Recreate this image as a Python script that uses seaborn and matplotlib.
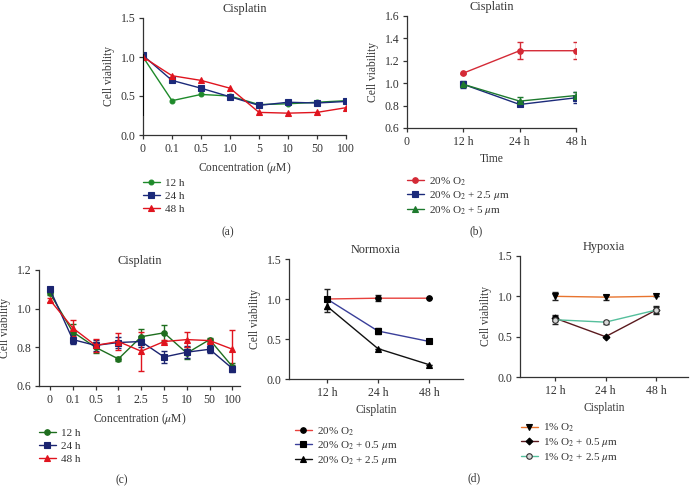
import numpy as np
import pandas as pd
import matplotlib
matplotlib.use("Agg")
import matplotlib.pyplot as plt
import seaborn as sns

# ---------------- data ----------------
# panel (a)
a_conc = ["0", "0.1", "0.5", "1.0", "5", "10", "50", "100"]
a_series = ["12 h", "24 h", "48 h"]
a_12 = [1.00, 0.44, 0.52, 0.50, 0.39, 0.40, 0.42, 0.44]
a_24 = [1.02, 0.70, 0.60, 0.49, 0.38, 0.42, 0.41, 0.43]
a_48 = [1.00, 0.76, 0.70, 0.60, 0.29, 0.28, 0.29, 0.35]
a_12_err_lo = [0.75, 0, 0, 0, 0, 0, 0, 0]
a_12_err_hi = [0.04, 0, 0, 0, 0, 0, 0, 0]

# panel (b)
b_time = ["0", "12 h", "24 h", "48 h"]
b_series = ["20% O$_2$", "20% O$_2$ + 2.5 $\\mu$m", "20% O$_2$ + 5 $\\mu$m"]
b_o2 = [1.09, 1.29, 1.29]
b_o2_err = [0.005, 0.075, 0.075]
b_25 = [0.99, 0.81, 0.87]
b_25_err = [0.03, 0.01, 0.05]
b_5 = [0.99, 0.84, 0.89]
b_5_err = [0.02, 0.04, 0.03]

# panel (c)
c_conc = ["0", "0.1", "0.5", "1", "2.5", "5", "10", "50", "100"]
c_series = ["12 h", "24 h", "48 h"]
c_12 = [1.08, 0.88, 0.80, 0.74, 0.855, 0.875, 0.77, 0.84, 0.70]
c_12_err = [0.01, 0.04, 0.03, 0.01, 0.04, 0.04, 0.03, 0.01, 0.02]
c_24 = [1.10, 0.84, 0.81, 0.825, 0.83, 0.75, 0.775, 0.79, 0.69]
c_24_err = [0.01, 0.025, 0.03, 0.03, 0.03, 0.03, 0.03, 0.02, 0.02]
c_48 = [1.045, 0.90, 0.81, 0.83, 0.78, 0.83, 0.84, 0.835, 0.79]
c_48_err = [0.01, 0.04, 0.035, 0.045, 0.10, 0.01, 0.04, 0.01, 0.10]

# panel (d) normoxia
d_time = ["12 h", "24 h", "48 h"]
n_series = ["20% O$_2$", "20% O$_2$ + 0.5 $\\mu$m", "20% O$_2$ + 2.5 $\\mu$m"]
n_o2 = [1.00, 1.01, 1.01]
n_o2_err = [0.13, 0.04, 0.0]
n_05 = [1.00, 0.60, 0.47]
n_05_err = [0.0, 0.04, 0.0]
n_25 = [0.91, 0.38, 0.18]
n_25_err = [0.07, 0.0, 0.0]

# panel (d) hypoxia
h_series = ["1% O$_2$", "1% O$_2$ + 0.5 $\\mu$m", "1% O$_2$ + 2.5 $\\mu$m"]
h_o2 = [1.00, 0.99, 1.00]
h_o2_err = [0.05, 0.03, 0.0]
h_05 = [0.73, 0.50, 0.83]
h_05_err = [0.04, 0.0, 0.04]
h_25 = [0.71, 0.68, 0.83]
h_25_err = [0.05, 0.02, 0.05]

# ---------------- style ----------------
sns.set_style("ticks")
plt.rcParams["font.family"] = ["Liberation Serif", "DejaVu Serif"]
plt.rcParams["mathtext.fontset"] = "stix"
plt.rcParams["font.size"] = 8.5
plt.rcParams["axes.linewidth"] = 0.9
plt.rcParams["xtick.major.size"] = 3
plt.rcParams["ytick.major.size"] = 3
plt.rcParams["xtick.major.width"] = 0.9
plt.rcParams["ytick.major.width"] = 0.9
plt.rcParams["xtick.major.pad"] = 2.5
plt.rcParams["ytick.major.pad"] = 2.5
plt.rcParams["text.color"] = "#333333"
plt.rcParams["xtick.color"] = "#333333"
plt.rcParams["ytick.color"] = "#333333"
plt.rcParams["axes.labelcolor"] = "#333333"
plt.rcParams["axes.edgecolor"] = "#333333"

W, H = 690, 488
fig = plt.figure(figsize=(6.9, 4.88), dpi=100)

FS_TICK = 8.5
FS_LAB = 8.3
FS_TITLE = 8.8
FS_LEG = 8


def fbox(l, r, t, b):
    return [l / W, (H - b) / H, (r - l) / W, (b - t) / H]


def style_ax(ax, title):
    sns.despine(ax=ax)
    ax.set_title(title, fontsize=FS_TITLE, pad=4)
    ax.set_ylabel("Cell viability", fontsize=FS_LAB, labelpad=4)
    ax.tick_params(labelsize=FS_TICK)


def add_series(ax, x, y, color, marker, label, err=None, mfc=None, mec=None, ms=4, ecolor=None):
    df = pd.DataFrame({"x": x, "y": y})
    sns.lineplot(data=df, x="x", y="y", ax=ax, color=color, marker=marker,
                 markersize=ms, linewidth=1.0, label=label,
                 markerfacecolor=mfc if mfc else color,
                 markeredgecolor=mec if mec else color, markeredgewidth=0.8)
    if err is not None:
        ax.errorbar(x, y, yerr=err, fmt="none", ecolor=ecolor if ecolor else color,
                    elinewidth=1.0, capsize=2.5, capthick=1.0, zorder=1)


def add_legend(ax, x0, y0, spacing=0.3):
    h, l = ax.get_legend_handles_labels()
    ax.legend(h, l, loc="upper left", bbox_to_anchor=(x0 / W, 1 - y0 / H),
              bbox_transform=fig.transFigure, frameon=False, fontsize=FS_LEG,
              handlelength=1.5, handletextpad=0.45, labelspacing=spacing,
              borderpad=0, borderaxespad=0)


# ---------- (a) ----------
ax = fig.add_axes(fbox(143, 346, 18, 135))
xa = np.arange(len(a_conc))
add_series(ax, xa, a_12, "#1e8a2a", "o", a_series[0], ms=3.5)
ax.errorbar(xa, a_12, yerr=[a_12_err_lo, a_12_err_hi], fmt="none", ecolor="black",
            elinewidth=1.2, capsize=0, zorder=3)
add_series(ax, xa, a_24, "#1b2a7a", "s", a_series[1])
add_series(ax, xa, a_48, "#e0141e", "^", a_series[2])
ax.set_xlim(0, len(a_conc) - 1)
ax.set_ylim(0, 1.5)
ax.set_xticks(xa)
ax.set_xticklabels(a_conc)
ax.set_yticks([0, 0.5, 1.0, 1.5])
ax.set_yticklabels(["0.0", "0.5", "1.0", "1.5"])
ax.set_xlabel("Concentration ($\\mu$M)", fontsize=FS_LAB, labelpad=4)
style_ax(ax, "Cisplatin")
add_legend(ax, 143, 178)

# ---------- (b) ----------
ax = fig.add_axes(fbox(407, 576, 16, 128))
xb = np.arange(1, len(b_time))
add_series(ax, xb, b_o2, "#d42a36", "o", b_series[0], err=b_o2_err)
add_series(ax, xb, b_25, "#1b2a7a", "s", b_series[1], err=b_25_err)
add_series(ax, xb, b_5, "#1e7a2e", "^", b_series[2], err=b_5_err)
ax.set_xlim(0, len(b_time) - 1)
ax.set_ylim(0.6, 1.6)
ax.set_xticks(np.arange(len(b_time)))
ax.set_xticklabels(b_time)
ax.set_yticks([0.6, 0.8, 1.0, 1.2, 1.4, 1.6])
ax.set_xlabel("Time", fontsize=FS_LAB, labelpad=4)
style_ax(ax, "Cisplatin")
ax.title.set_position((0.5, 1.03))
add_legend(ax, 407, 175, spacing=0.15)

# ---------- (c) ----------
ax = fig.add_axes(fbox(39, 240, 270, 386))
xc = np.arange(len(c_conc))
add_series(ax, xc, c_12, "#1e6e1e", "o", c_series[0], err=c_12_err)
add_series(ax, xc, c_24, "#1b2470", "s", c_series[1], err=c_24_err)
add_series(ax, xc, c_48, "#e0141e", "^", c_series[2], err=c_48_err)
ax.set_xlim(-0.48, 8.33)
ax.set_ylim(0.6, 1.2)
ax.set_xticks(xc)
ax.set_xticklabels(c_conc)
ax.set_yticks([0.6, 0.8, 1.0, 1.2])
ax.set_xlabel("Concentration ($\\mu$M)", fontsize=FS_LAB, labelpad=4)
style_ax(ax, "Cisplatin")
add_legend(ax, 39, 428)

# ---------- (d) normoxia ----------
ax = fig.add_axes(fbox(289, 463, 259, 379))
xd = np.arange(len(d_time))
add_series(ax, xd, n_o2, "#e8413c", "o", n_series[0], err=n_o2_err, mfc="black", mec="black", ecolor="#222222")
add_series(ax, xd, n_05, "#3a3f9a", "s", n_series[1], err=n_05_err, mfc="black", mec="black", ecolor="#222222")
add_series(ax, xd, n_25, "#111111", "^", n_series[2], err=n_25_err, mfc="black", mec="black", ecolor="#222222")
ax.set_xlim(-0.745, 2.67)
ax.set_ylim(0, 1.5)
ax.set_xticks(xd)
ax.set_xticklabels(d_time)
ax.set_yticks([0, 0.5, 1.0, 1.5])
ax.set_yticklabels(["0.0", "0.5", "1.0", "1.5"])
ax.set_xlabel("Cisplatin", fontsize=FS_LAB, labelpad=4)
style_ax(ax, "Normoxia")
add_legend(ax, 295, 425, spacing=0.15)

# ---------- (d) hypoxia ----------
ax = fig.add_axes(fbox(520, 688, 256, 377))
add_series(ax, xd, h_o2, "#e8742e", "v", h_series[0], err=h_o2_err, mfc="black", mec="black", ecolor="#222222")
add_series(ax, xd, h_05, "#5a1a1e", "D", h_series[1], err=h_05_err, mfc="black", mec="black", ms=3.5, ecolor="#222222")
add_series(ax, xd, h_25, "#55bf9c", "o", h_series[2], err=h_25_err, mfc="#d8d8d8", mec="#333333", ecolor="#222222")
ax.set_xlim(-0.69, 2.63)
ax.set_ylim(0, 1.5)
ax.set_xticks(xd)
ax.set_xticklabels(d_time)
ax.set_yticks([0, 0.5, 1.0, 1.5])
ax.set_yticklabels(["0.0", "0.5", "1.0", "1.5"])
ax.set_xlabel("Cisplatin", fontsize=FS_LAB, labelpad=4)
style_ax(ax, "Hypoxia")
add_legend(ax, 521, 422, spacing=0.15)

# panel labels
for txt, x, y in [("(a)", 228, 232), ("(b)", 476, 231), ("(c)", 122, 480), ("(d)", 474, 478)]:
    fig.text(x / W, 1 - y / H, txt, ha="center", va="center", fontsize=FS_LAB)

fig.savefig("out.png", dpi=100)
